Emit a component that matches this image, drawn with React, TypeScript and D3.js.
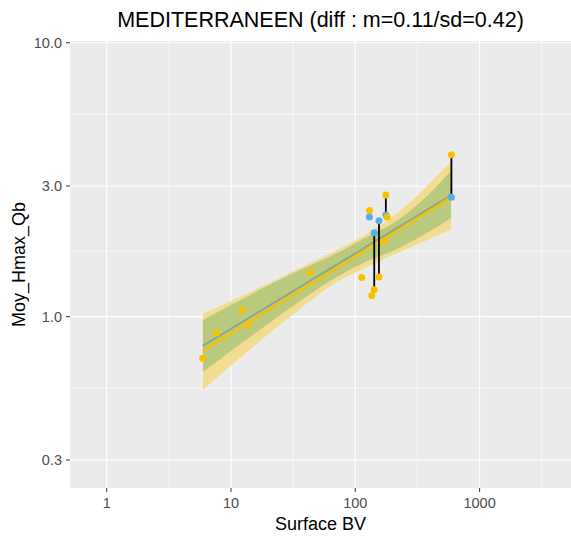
import * as d3 from 'd3';
import React from 'react';

// observed points (orange)
const obsSurface = [5.92, 7.67, 12.33, 13.78, 43.4, 112.6, 130, 135.5, 142, 155, 171.8, 176, 180, 593];
const obsHmax = [0.705, 0.874, 1.06, 0.938, 1.447, 1.39, 2.44, 1.195, 1.254, 1.396, 1.89, 2.78, 2.31, 3.9];

// paired points (blue) linked to an observed value
const pairSurface = [130, 142, 155, 176, 593];
const pairObs = [2.44, 1.254, 1.396, 2.78, 3.9];
const pairPred = [2.31, 2.026, 2.24, 2.35, 2.73];

// fitted lines
const fitSurface = [5.92, 593];
const fitHmax = [0.751, 2.73];
const fit2Hmax = [0.782, 2.78];

// confidence ribbons
const bandSurface = [5.95, 10.77, 18.77, 35.9, 68.7, 119.7, 208.6, 363.7, 588.9];
const outerHigh = [1.023, 1.16, 1.305, 1.505, 1.737, 1.987, 2.35, 2.949, 3.7];
const outerLow = [0.54, 0.683, 0.843, 1.067, 1.327, 1.505, 1.694, 1.889, 2.081];
const innerHigh = [0.973, 1.122, 1.284, 1.481, 1.694, 1.938, 2.216, 2.713, 3.402];
const innerLow = [0.628, 0.769, 0.925, 1.141, 1.384, 1.583, 1.752, 2.003, 2.292];

const xTicks = [1, 10, 100, 1000];
const yTicks = [0.3, 1, 3, 10];
const yTickLabels = ['0.3', '1.0', '3.0', '10.0'];

const W = 571;
const H = 538;
const left = 70;
const right = 571;
const top = 41;
const bottom = 488;

const App: React.FC = () => {
  const x = d3.scaleLog().domain([0.507, 5433]).range([left, right]);
  const y = d3.scaleLog().domain([0.237, 10.15]).range([bottom, top]);

  // ggplot-style minor breaks halfway between majors (log space)
  const xMinor = [0.5, 1.5, 2.5, 3.5].map((e) => Math.pow(10, e));
  const yMinor = [Math.sqrt(0.3), Math.sqrt(3), Math.sqrt(30)];

  const band = (lo: number[], hi: number[]) =>
    d3.area<number>()
      .curve(d3.curveMonotoneX)
      .x((_d, i) => x(bandSurface[i]))
      .y0((_d, i) => y(lo[i]))
      .y1((_d, i) => y(hi[i]))(bandSurface) || '';

  const line = d3.line<number>()
    .x((_d, i) => x(fitSurface[i]))
    .y((d) => y(d));

  const font = 'Liberation Sans, Arial, sans-serif';

  return (
    <svg width={W} height={H} style={{ position: 'absolute', left: 0, top: 0 }} fontFamily={font}>
      <rect x={0} y={0} width={W} height={H} fill="#fff" />
      <text x={(left + right) / 2} y={27} textAnchor="middle" fontSize={21.5} fill="#000">
        MEDITERRANEEN (diff : m=0.11/sd=0.42)
      </text>
      <rect x={left} y={top} width={right - left} height={bottom - top} fill="#ebebeb" />
      {xMinor.map((v) => (
        <line key={'xm' + v} x1={x(v)} x2={x(v)} y1={top} y2={bottom} stroke="#fff" strokeWidth={0.6} />
      ))}
      {yMinor.map((v) => (
        <line key={'ym' + v} x1={left} x2={right} y1={y(v)} y2={y(v)} stroke="#fff" strokeWidth={0.6} />
      ))}
      {xTicks.map((v) => (
        <line key={'xg' + v} x1={x(v)} x2={x(v)} y1={top} y2={bottom} stroke="#fff" strokeWidth={1.2} />
      ))}
      {yTicks.map((v) => (
        <line key={'yg' + v} x1={left} x2={right} y1={y(v)} y2={y(v)} stroke="#fff" strokeWidth={1.2} />
      ))}

      <path d={band(outerLow, outerHigh)} fill="#f1dc91" />
      <path d={band(innerLow, innerHigh)} fill="#b9c97e" />

      <path d={line(fit2Hmax) || ''} fill="none" stroke="#8aa68c" strokeWidth={2} />
      <path d={line(fitHmax) || ''} fill="none" stroke="#f7c000" strokeWidth={2.2} />

      {pairSurface.map((s, i) => (
        <line key={'seg' + i} x1={x(s)} x2={x(s)} y1={y(pairObs[i])} y2={y(pairPred[i])} stroke="#000" strokeWidth={1.8} />
      ))}
      {pairSurface.map((s, i) => (
        <circle key={'bp' + i} cx={x(s)} cy={y(pairPred[i])} r={3.5} fill="#56b0e8" />
      ))}
      {obsSurface.map((s, i) => (
        <circle key={'op' + i} cx={x(s)} cy={y(obsHmax[i])} r={3.5} fill="#f7c000" />
      ))}

      {yTicks.map((v, i) => (
        <g key={'yt' + v}>
          <line x1={left - 4} x2={left} y1={y(v)} y2={y(v)} stroke="#333" strokeWidth={1} />
          <text x={left - 8} y={y(v)} dy="0.36em" textAnchor="end" fontSize={14.5} fill="#4d4d4d">
            {yTickLabels[i]}
          </text>
        </g>
      ))}
      {xTicks.map((v) => (
        <g key={'xt' + v}>
          <line x1={x(v)} x2={x(v)} y1={bottom} y2={bottom + 4} stroke="#333" strokeWidth={1} />
          <text x={x(v)} y={bottom + 20} textAnchor="middle" fontSize={14.5} fill="#4d4d4d">
            {d3.format('d')(v)}
          </text>
        </g>
      ))}
      <text x={(left + right) / 2} y={530} textAnchor="middle" fontSize={18} fill="#000">
        Surface BV
      </text>
      <text transform={`translate(25,${(top + bottom) / 2}) rotate(-90)`} textAnchor="middle" fontSize={18} fill="#000">
        Moy_Hmax_Qb
      </text>
    </svg>
  );
};

export default App;
